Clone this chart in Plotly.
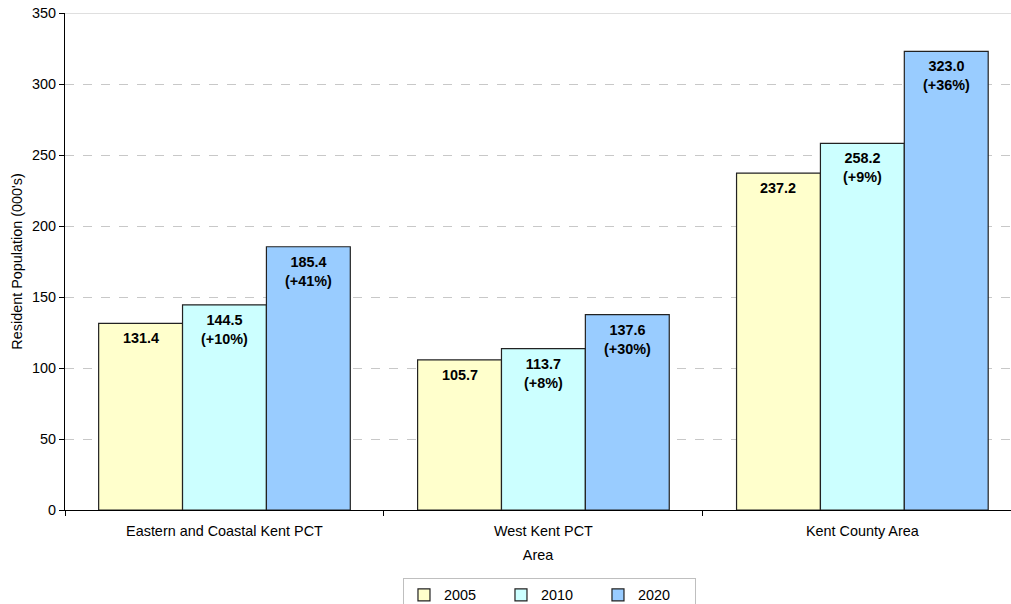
import plotly.graph_objects as go

# Resident population (thousands) by area and year
areas = ["Eastern and Coastal Kent PCT", "West Kent PCT", "Kent County Area"]
years = ["2005", "2010", "2020"]
pop_2005 = [131.4, 105.7, 237.2]
pop_2010 = [144.5, 113.7, 258.2]
pop_2020 = [185.4, 137.6, 323.0]

series = [pop_2005, pop_2010, pop_2020]
fills = ["#FFFFCC", "#CCFFFF", "#99CCFF"]

FONT = "Arial, 'Liberation Sans', sans-serif"
FS = 14.4
bar_w = 0.263
group_start = -1.5 * bar_w

fig = go.Figure()
annotations = []
for i, (yr, vals, col) in enumerate(zip(years, series, fills)):
    offset = group_start + i * bar_w
    fig.add_trace(go.Bar(
        x=areas, y=vals, name=yr,
        offset=offset, width=bar_w,
        marker=dict(color=col, line=dict(color="#222222", width=1.2)),
        hoverinfo="x+y",
    ))
    for j, v in enumerate(vals):
        if i == 0:
            txt = f"<b>{v:.1f}</b>"
        else:
            pct = round((v / pop_2005[j] - 1) * 100)
            txt = f"<b>{v:.1f}<br>(+{pct}%)</b>"
        annotations.append(dict(
            x=j + offset + bar_w / 2, y=v, xref="x", yref="y",
            text=txt, showarrow=False, yanchor="top", yshift=-5,
            font=dict(family=FONT, size=FS, color="#000000"),
            align="center",
        ))

fig.update_layout(
    width=1011, height=604,
    margin=dict(l=65, r=0, t=13, b=94),
    paper_bgcolor="white", plot_bgcolor="white",
    barmode="overlay",
    font=dict(family=FONT, size=FS, color="#000000"),
    annotations=annotations,
    showlegend=True,
    legend=dict(
        orientation="h", xref="container", yref="container",
        x=0.5435, xanchor="center", y=1 - 578 / 604, yanchor="top",
        bordercolor="#BFBFBF", borderwidth=1,
        itemwidth=30, entrywidth=52, entrywidthmode="pixels",
        font=dict(family=FONT, size=FS, color="#000000"),
    ),
    shapes=[dict(type="line", xref="paper", yref="y", x0=0, x1=1, y0=350, y1=350,
                 line=dict(color="#BFBFBF", width=1))],
)

fig.update_xaxes(
    type="category", range=[-0.5, 2.466],
    tickson="boundaries", ticks="outside", ticklen=5, tickcolor="#000000",
    ticklabelstandoff=8,
    showline=True, linecolor="#000000", linewidth=1,
    showgrid=False, zeroline=False,
    title=dict(text="Area", font=dict(family=FONT, size=FS), standoff=11),
    tickfont=dict(family=FONT, size=FS),
)
fig.update_yaxes(
    range=[0, 350], dtick=50, ticks="outside", ticklen=5, tickcolor="#000000",
    showline=True, linecolor="#000000", linewidth=1,
    showgrid=True, gridcolor="#C8C8C8", griddash="dash", gridwidth=1,
    zeroline=False,
    title=dict(text="Resident Population (000's)", font=dict(family=FONT, size=FS), standoff=6),
    tickfont=dict(family=FONT, size=FS),
)

fig.write_html("out.html")
